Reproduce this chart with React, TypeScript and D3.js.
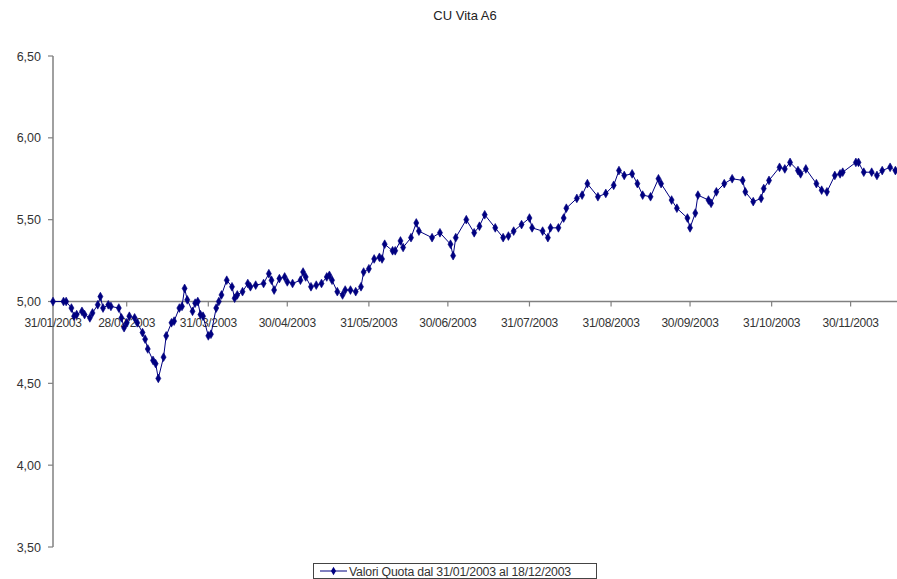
import React from "react";
import * as d3 from "d3";

const title = "CU Vita A6";
const legendLabel = "Valori Quota dal 31/01/2003 al 18/12/2003";
const startDate = "31/01/2003";
const endDate = "18/12/2003";
const yTicks = [3.5, 4.0, 4.5, 5.0, 5.5, 6.0, 6.5];
const xTickDates = ["31/01/2003", "28/02/2003", "31/03/2003", "30/04/2003", "31/05/2003", "30/06/2003", "31/07/2003", "31/08/2003", "30/09/2003", "31/10/2003", "30/11/2003"];

const dates = [
  "31/01/2003", "04/02/2003", "05/02/2003", "07/02/2003", "08/02/2003", "09/02/2003", "11/02/2003", "12/02/2003", "14/02/2003", "15/02/2003",
  "17/02/2003", "18/02/2003", "19/02/2003", "21/02/2003", "22/02/2003", "25/02/2003", "26/02/2003", "27/02/2003", "28/02/2003", "01/03/2003",
  "03/03/2003", "04/03/2003", "06/03/2003", "07/03/2003", "08/03/2003", "10/03/2003", "11/03/2003", "12/03/2003", "14/03/2003", "15/03/2003",
  "17/03/2003", "18/03/2003", "20/03/2003", "21/03/2003", "22/03/2003", "23/03/2003", "25/03/2003", "26/03/2003", "27/03/2003", "28/03/2003",
  "29/03/2003", "31/03/2003", "01/04/2003", "03/04/2003", "04/04/2003", "05/04/2003", "07/04/2003", "09/04/2003", "10/04/2003", "11/04/2003",
  "13/04/2003", "15/04/2003", "16/04/2003", "18/04/2003", "21/04/2003", "23/04/2003", "24/04/2003", "25/04/2003", "27/04/2003", "29/04/2003",
  "30/04/2003", "02/05/2003", "05/05/2003", "06/05/2003", "07/05/2003", "09/05/2003", "11/05/2003", "13/05/2003", "15/05/2003", "16/05/2003",
  "17/05/2003", "19/05/2003", "21/05/2003", "22/05/2003", "24/05/2003", "26/05/2003", "28/05/2003", "29/05/2003", "31/05/2003", "02/06/2003",
  "04/06/2003", "05/06/2003", "06/06/2003", "09/06/2003", "10/06/2003", "12/06/2003", "13/06/2003", "16/06/2003", "18/06/2003", "19/06/2003",
  "24/06/2003", "27/06/2003", "01/07/2003", "02/07/2003", "03/07/2003", "07/07/2003", "10/07/2003", "12/07/2003", "14/07/2003", "18/07/2003",
  "21/07/2003", "23/07/2003", "25/07/2003", "28/07/2003", "31/07/2003", "01/08/2003", "05/08/2003", "07/08/2003", "08/08/2003", "11/08/2003",
  "13/08/2003", "14/08/2003", "18/08/2003", "20/08/2003", "22/08/2003", "26/08/2003", "29/08/2003", "01/09/2003", "03/09/2003", "05/09/2003",
  "08/09/2003", "10/09/2003", "12/09/2003", "15/09/2003", "18/09/2003", "19/09/2003", "23/09/2003", "25/09/2003", "29/09/2003", "30/09/2003",
  "02/10/2003", "03/10/2003", "07/10/2003", "08/10/2003", "10/10/2003", "13/10/2003", "16/10/2003", "20/10/2003", "21/10/2003", "24/10/2003",
  "27/10/2003", "28/10/2003", "30/10/2003", "03/11/2003", "05/11/2003", "07/11/2003", "10/11/2003", "11/11/2003", "13/11/2003", "17/11/2003",
  "19/11/2003", "21/11/2003", "24/11/2003", "26/11/2003", "27/11/2003", "02/12/2003", "03/12/2003", "05/12/2003", "08/12/2003", "10/12/2003",
  "12/12/2003", "15/12/2003", "17/12/2003", "18/12/2003"
];

const values = [
  5.00, 5.00, 5.00, 4.96, 4.91, 4.92, 4.94, 4.92, 4.90, 4.93,
  4.98, 5.03, 4.96, 4.98, 4.97, 4.96, 4.90, 4.84, 4.87, 4.91,
  4.90, 4.87, 4.81, 4.77, 4.71, 4.64, 4.62, 4.53, 4.66, 4.79,
  4.87, 4.88, 4.96, 4.97, 5.08, 5.01, 4.94, 4.99, 5.00, 4.92,
  4.91, 4.79, 4.80, 4.96, 5.00, 5.04, 5.13, 5.09, 5.02, 5.04,
  5.06, 5.11, 5.09, 5.10, 5.11, 5.17, 5.13, 5.07, 5.14, 5.15,
  5.12, 5.11, 5.13, 5.18, 5.15, 5.09, 5.10, 5.11, 5.15, 5.16,
  5.13, 5.06, 5.04, 5.07, 5.07, 5.06, 5.09, 5.18, 5.20, 5.26,
  5.27, 5.26, 5.35, 5.31, 5.31, 5.37, 5.33, 5.39, 5.48, 5.43,
  5.39, 5.42, 5.35, 5.28, 5.39, 5.50, 5.42, 5.46, 5.53, 5.45,
  5.39, 5.40, 5.43, 5.47, 5.51, 5.45, 5.43, 5.39, 5.45, 5.45,
  5.51, 5.57, 5.63, 5.65, 5.72, 5.64, 5.66, 5.71, 5.80, 5.77,
  5.78, 5.72, 5.65, 5.64, 5.75, 5.72, 5.62, 5.57, 5.51, 5.45,
  5.54, 5.65, 5.62, 5.60, 5.67, 5.72, 5.75, 5.74, 5.67, 5.61,
  5.63, 5.69, 5.74, 5.82, 5.81, 5.85, 5.80, 5.78, 5.81, 5.72,
  5.68, 5.67, 5.77, 5.78, 5.79, 5.85, 5.85, 5.79, 5.79, 5.77,
  5.80, 5.82, 5.80, 5.80
];

const W = 897;
const H = 579;
const FONT = "'Liberation Sans', Arial, sans-serif";
const NAVY = "#000080";
const AXIS = "#808080";
const TEXT = "#333333";

export default function App() {
  const parse = d3.timeParse("%d/%m/%Y");
  const fmt = d3.timeFormat("%d/%m/%Y");
  const data = dates.map((d, i) => ({ date: parse(d) as Date, value: values[i] }));

  const x = d3.scaleTime().domain([parse(startDate) as Date, parse(endDate) as Date]).range([53, 898]);
  const y = d3.scaleLinear().domain([3.5, 6.5]).range([547, 56]);

  const line = d3
    .line<{ date: Date; value: number }>()
    .x((d) => x(d.date))
    .y((d) => y(d.value));

  const diamond = d3.symbol().type(d3.symbolDiamond).size(22)() as string;
  const axisY = y(5.0);

  return (
    <svg
      width={W}
      height={H}
      style={{ position: "fixed", left: 0, top: 0, background: "#ffffff" }}
      fontFamily={FONT}
    >
      <rect x={0} y={0} width={W} height={H} fill="#ffffff" />
      <text x={465} y={20} textAnchor="middle" fontSize={13} fill="#222">
        {title}
      </text>

      {/* Y axis */}
      <line x1={53} x2={53} y1={y(6.5)} y2={y(3.5)} stroke={AXIS} strokeWidth={1.5} />
      {yTicks.map((t) => (
        <g key={t}>
          <line x1={48} x2={53} y1={y(t)} y2={y(t)} stroke={AXIS} strokeWidth={1.2} />
          <text x={41} y={y(t) + 4.5} textAnchor="end" fontSize={12.5} fill={TEXT}>
            {d3.format(".2f")(t).replace(".", ",")}
          </text>
        </g>
      ))}

      {/* X axis at 5,00 */}
      <line x1={53} x2={W} y1={axisY} y2={axisY} stroke={AXIS} strokeWidth={1.5} />
      {xTickDates.map((s) => {
        const d = parse(s) as Date;
        const px = x(d);
        return (
          <g key={s}>
            <line x1={px} x2={px} y1={axisY} y2={axisY + 5} stroke={AXIS} strokeWidth={1.2} />
            <text x={px} y={axisY + 25} textAnchor="middle" fontSize={12} fill={TEXT} letterSpacing={-0.3}>
              {fmt(d)}
            </text>
          </g>
        );
      })}

      {/* Series */}
      <path d={line(data) as string} fill="none" stroke={NAVY} strokeWidth={1} />
      {data.map((d, i) => (
        <path key={i} d={diamond} transform={`translate(${x(d.date)},${y(d.value)})`} fill={NAVY} stroke={NAVY} strokeWidth={0.6} />
      ))}

      {/* Legend */}
      <rect x={313.5} y={563.5} width={283} height={15} fill="#fff" stroke="#444" strokeWidth={1} />
      <line x1={320} x2={347} y1={571} y2={571} stroke={NAVY} strokeWidth={1} />
      <path d={diamond} transform="translate(333.5,571)" fill={NAVY} />
      <text x={349} y={575.5} fontSize={12.3} fill={TEXT} letterSpacing={-0.2}>
        {legendLabel}
      </text>
    </svg>
  );
}
